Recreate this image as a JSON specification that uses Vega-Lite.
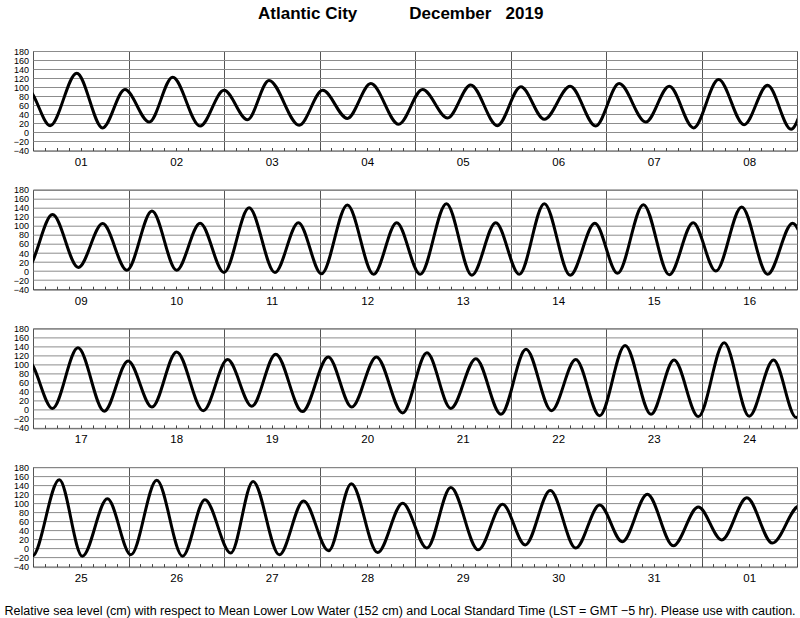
{
  "$schema": "https://vega.github.io/schema/vega-lite/v6.json",
  "padding": {"left": 3, "top": 4, "right": 0, "bottom": 0},
  "background": "white",
  "title": {
    "text": "Atlantic City\u00a0\u00a0\u00a0\u00a0\u00a0\u00a0\u00a0\u00a0\u00a0\u00a0\u00a0December\u00a0\u00a0\u00a02019",
    "font": "Liberation Sans",
    "fontSize": 17,
    "fontWeight": "bold",
    "color": "black",
    "anchor": "middle",
    "offset": 24
  },
  "data": {
    "values": [
      {"hour":-7.4,"level":12},
      {"hour":-1.2,"level":93},{"hour":4.3,"level":15},{"hour":11.0,"level":131},{"hour":17.5,"level":10},
      {"hour":23.1,"level":95},{"hour":29.2,"level":23},{"hour":35.1,"level":122},{"hour":42.0,"level":14},
      {"hour":48.0,"level":93},{"hour":53.9,"level":28},{"hour":59.3,"level":115},{"hour":66.9,"level":16},
      {"hour":72.8,"level":93},{"hour":79.0,"level":31},{"hour":84.9,"level":108},{"hour":91.9,"level":18},
      {"hour":97.9,"level":95},{"hour":104.2,"level":32},{"hour":110.0,"level":105},{"hour":116.7,"level":15},
      {"hour":122.6,"level":101},{"hour":128.5,"level":29},{"hour":135.0,"level":102},{"hour":141.4,"level":14},
      {"hour":147.3,"level":108},{"hour":154.0,"level":23},{"hour":159.9,"level":102},{"hour":166.0,"level":10},
      {"hour":172.3,"level":117},{"hour":178.7,"level":17},{"hour":184.6,"level":104},{"hour":190.5,"level":7},
      {"hour":196.9,"level":125},{"hour":203.4,"level":8},{"hour":209.5,"level":105},{"hour":215.6,"level":2},
      {"hour":221.9,"level":133},{"hour":228.1,"level":2},{"hour":234.0,"level":106},{"hour":240.0,"level":-3},
      {"hour":246.3,"level":140},{"hour":252.8,"level":-3},{"hour":258.7,"level":107},{"hour":264.5,"level":-6},
      {"hour":271.0,"level":146},{"hour":277.6,"level":-7},{"hour":283.4,"level":107},{"hour":289.3,"level":-7},
      {"hour":295.9,"level":149},{"hour":302.3,"level":-9},{"hour":308.3,"level":107},{"hour":314.2,"level":-7},
      {"hour":320.5,"level":149},{"hour":327.0,"level":-9},{"hour":333.2,"level":106},{"hour":338.9,"level":-5},
      {"hour":345.4,"level":147},{"hour":351.9,"level":-8},{"hour":357.9,"level":107},{"hour":363.6,"level":0},
      {"hour":370.1,"level":142},{"hour":376.6,"level":-7},{"hour":382.9,"level":106},{"hour":388.9,"level":3},
      {"hour":395.3,"level":137},{"hour":401.9,"level":-3},{"hour":407.9,"level":108},{"hour":413.9,"level":6},
      {"hour":420.1,"level":128},{"hour":426.8,"level":-2},{"hour":432.9,"level":111},{"hour":439.0,"level":8},
      {"hour":445.0,"level":123},{"hour":451.7,"level":-4},{"hour":458.2,"level":117},{"hour":464.1,"level":6},
      {"hour":470.3,"level":117},{"hour":476.9,"level":-7},{"hour":483.0,"level":126},{"hour":489.0,"level":3},
      {"hour":495.3,"level":113},{"hour":501.6,"level":-10},{"hour":507.9,"level":134},{"hour":514.3,"level":-2},
      {"hour":520.4,"level":111},{"hour":526.4,"level":-13},{"hour":532.8,"level":142},{"hour":539.3,"level":-10},
      {"hour":545.1,"level":110},{"hour":551.2,"level":-15},{"hour":557.7,"level":148},{"hour":564.0,"level":-14},
      {"hour":570.1,"level":110},{"hour":575.8,"level":-17},{"hour":582.6,"level":152},{"hour":588.4,"level":-17},
      {"hour":594.7,"level":110},{"hour":600.6,"level":-14},{"hour":607.1,"level":151},{"hour":613.6,"level":-17},
      {"hour":619.2,"level":108},{"hour":625.7,"level":-10},{"hour":631.3,"level":148},{"hour":637.9,"level":-14},
      {"hour":644.0,"level":105},{"hour":650.3,"level":-5},{"hour":656.0,"level":143},{"hour":662.6,"level":-9},
      {"hour":668.9,"level":100},{"hour":675.0,"level":1},{"hour":681.0,"level":135},{"hour":687.9,"level":-3},
      {"hour":694.0,"level":98},{"hour":699.7,"level":8},{"hour":706.0,"level":128},{"hour":712.4,"level":1},
      {"hour":718.4,"level":96},{"hour":724.1,"level":15},{"hour":730.4,"level":120},{"hour":736.9,"level":6},
      {"hour":743.2,"level":92},{"hour":749.1,"level":19},{"hour":755.4,"level":112},{"hour":761.8,"level":12},
      {"hour":768.6,"level":94},{"hour":774.6,"level":22}
    ]
  },
  "spacing": 38.7,
  "bounds": "flush",
  "vconcat": [
    {
      "width": 764, "height": 99.5,
      "mark": {"type": "line", "interpolate": "monotone", "clip": true, "color": "black", "strokeWidth": 3},
      "encoding": {
        "x": {"field": "hour", "type": "quantitative",
          "scale": {"domain": [0, 192], "nice": false, "zero": false},
          "axis": {"title": null, "values": [0,3,6,9,12,15,18,21,24,27,30,33,36,39,42,45,48,51,54,57,60,63,66,69,72,75,78,81,84,87,90,93,96,99,102,105,108,111,114,117,120,123,126,129,132,135,138,141,144,147,150,153,156,159,162,165,168,171,174,177,180,183,186,189,192],
            "labelExpr": "datum.value % 24 == 12 ? ((floor(datum.value / 24) % 31 + 1) < 10 ? '0' : '') + (floor(datum.value / 24) % 31 + 1) : ''",
            "grid": true, "gridColor": {"condition": {"test": "datum.value % 24 == 0", "value": "#555555"}, "value": "rgba(0,0,0,0)"}, "gridWidth": 1,
            "domain": false, "ticks": true, "tickSize": -3, "tickColor": "#444444", "tickWidth": 1,
            "labelFont": "Liberation Sans", "labelFontSize": 11.5, "labelColor": "black", "labelPadding": 9, "labelFlush": false, "labelOverlap": false, "labelBound": false}
        },
        "y": {"field": "level", "type": "quantitative",
          "scale": {"domain": [-40, 180], "nice": false, "zero": false},
          "axis": {"title": null, "values": [-40, -20, 0, 20, 40, 60, 80, 100, 120, 140, 160, 180], "grid": true, "gridColor": "#8c8c8c", "gridWidth": 1, "domain": false, "ticks": false, "labelFont": "Liberation Sans", "labelFontSize": 9, "labelColor": "black", "labelPadding": 4.5}
        }
      }
    },
    {
      "width": 764, "height": 99.5,
      "mark": {"type": "line", "interpolate": "monotone", "clip": true, "color": "black", "strokeWidth": 3},
      "encoding": {
        "x": {"field": "hour", "type": "quantitative",
          "scale": {"domain": [192, 384], "nice": false, "zero": false},
          "axis": {"title": null, "values": [192,195,198,201,204,207,210,213,216,219,222,225,228,231,234,237,240,243,246,249,252,255,258,261,264,267,270,273,276,279,282,285,288,291,294,297,300,303,306,309,312,315,318,321,324,327,330,333,336,339,342,345,348,351,354,357,360,363,366,369,372,375,378,381,384],
            "labelExpr": "datum.value % 24 == 12 ? ((floor(datum.value / 24) % 31 + 1) < 10 ? '0' : '') + (floor(datum.value / 24) % 31 + 1) : ''",
            "grid": true, "gridColor": {"condition": {"test": "datum.value % 24 == 0", "value": "#555555"}, "value": "rgba(0,0,0,0)"}, "gridWidth": 1,
            "domain": false, "ticks": true, "tickSize": -3, "tickColor": "#444444", "tickWidth": 1,
            "labelFont": "Liberation Sans", "labelFontSize": 11.5, "labelColor": "black", "labelPadding": 9, "labelFlush": false, "labelOverlap": false, "labelBound": false}
        },
        "y": {"field": "level", "type": "quantitative",
          "scale": {"domain": [-40, 180], "nice": false, "zero": false},
          "axis": {"title": null, "values": [-40, -20, 0, 20, 40, 60, 80, 100, 120, 140, 160, 180], "grid": true, "gridColor": "#8c8c8c", "gridWidth": 1, "domain": false, "ticks": false, "labelFont": "Liberation Sans", "labelFontSize": 9, "labelColor": "black", "labelPadding": 4.5}
        }
      }
    },
    {
      "width": 764, "height": 99.5,
      "mark": {"type": "line", "interpolate": "monotone", "clip": true, "color": "black", "strokeWidth": 3},
      "encoding": {
        "x": {"field": "hour", "type": "quantitative",
          "scale": {"domain": [384, 576], "nice": false, "zero": false},
          "axis": {"title": null, "values": [384,387,390,393,396,399,402,405,408,411,414,417,420,423,426,429,432,435,438,441,444,447,450,453,456,459,462,465,468,471,474,477,480,483,486,489,492,495,498,501,504,507,510,513,516,519,522,525,528,531,534,537,540,543,546,549,552,555,558,561,564,567,570,573,576],
            "labelExpr": "datum.value % 24 == 12 ? ((floor(datum.value / 24) % 31 + 1) < 10 ? '0' : '') + (floor(datum.value / 24) % 31 + 1) : ''",
            "grid": true, "gridColor": {"condition": {"test": "datum.value % 24 == 0", "value": "#555555"}, "value": "rgba(0,0,0,0)"}, "gridWidth": 1,
            "domain": false, "ticks": true, "tickSize": -3, "tickColor": "#444444", "tickWidth": 1,
            "labelFont": "Liberation Sans", "labelFontSize": 11.5, "labelColor": "black", "labelPadding": 9, "labelFlush": false, "labelOverlap": false, "labelBound": false}
        },
        "y": {"field": "level", "type": "quantitative",
          "scale": {"domain": [-40, 180], "nice": false, "zero": false},
          "axis": {"title": null, "values": [-40, -20, 0, 20, 40, 60, 80, 100, 120, 140, 160, 180], "grid": true, "gridColor": "#8c8c8c", "gridWidth": 1, "domain": false, "ticks": false, "labelFont": "Liberation Sans", "labelFontSize": 9, "labelColor": "black", "labelPadding": 4.5}
        }
      }
    },
    {
      "width": 764, "height": 99.5,
      "mark": {"type": "line", "interpolate": "monotone", "clip": true, "color": "black", "strokeWidth": 3},
      "encoding": {
        "x": {"field": "hour", "type": "quantitative",
          "scale": {"domain": [576, 768], "nice": false, "zero": false},
          "axis": {"title": "Relative sea level (cm) with respect to Mean Lower Low Water (152 cm) and Local Standard Time (LST = GMT \u22125 hr). Please use with caution.",
            "titleFont": "Liberation Sans", "titleFontSize": 12.5, "titleFontWeight": "normal", "titleColor": "black", "titleX": -29, "titleY": 47.5, "titleAlign": "left", "titleAnchor": "start", "titleBaseline": "alphabetic", "titleLimit": 2000,
            "values": [576,579,582,585,588,591,594,597,600,603,606,609,612,615,618,621,624,627,630,633,636,639,642,645,648,651,654,657,660,663,666,669,672,675,678,681,684,687,690,693,696,699,702,705,708,711,714,717,720,723,726,729,732,735,738,741,744,747,750,753,756,759,762,765,768],
            "labelExpr": "datum.value % 24 == 12 ? ((floor(datum.value / 24) % 31 + 1) < 10 ? '0' : '') + (floor(datum.value / 24) % 31 + 1) : ''",
            "grid": true, "gridColor": {"condition": {"test": "datum.value % 24 == 0", "value": "#555555"}, "value": "rgba(0,0,0,0)"}, "gridWidth": 1,
            "domain": false, "ticks": true, "tickSize": -3, "tickColor": "#444444", "tickWidth": 1,
            "labelFont": "Liberation Sans", "labelFontSize": 11.5, "labelColor": "black", "labelPadding": 9, "labelFlush": false, "labelOverlap": false, "labelBound": false}
        },
        "y": {"field": "level", "type": "quantitative",
          "scale": {"domain": [-40, 180], "nice": false, "zero": false},
          "axis": {"title": null, "values": [-40, -20, 0, 20, 40, 60, 80, 100, 120, 140, 160, 180], "grid": true, "gridColor": "#8c8c8c", "gridWidth": 1, "domain": false, "ticks": false, "labelFont": "Liberation Sans", "labelFontSize": 9, "labelColor": "black", "labelPadding": 4.5}
        }
      }
    }
  ],
  "config": {
    "view": {"stroke": "#444444", "strokeWidth": 1},
    "font": "Liberation Sans"
  }
}
